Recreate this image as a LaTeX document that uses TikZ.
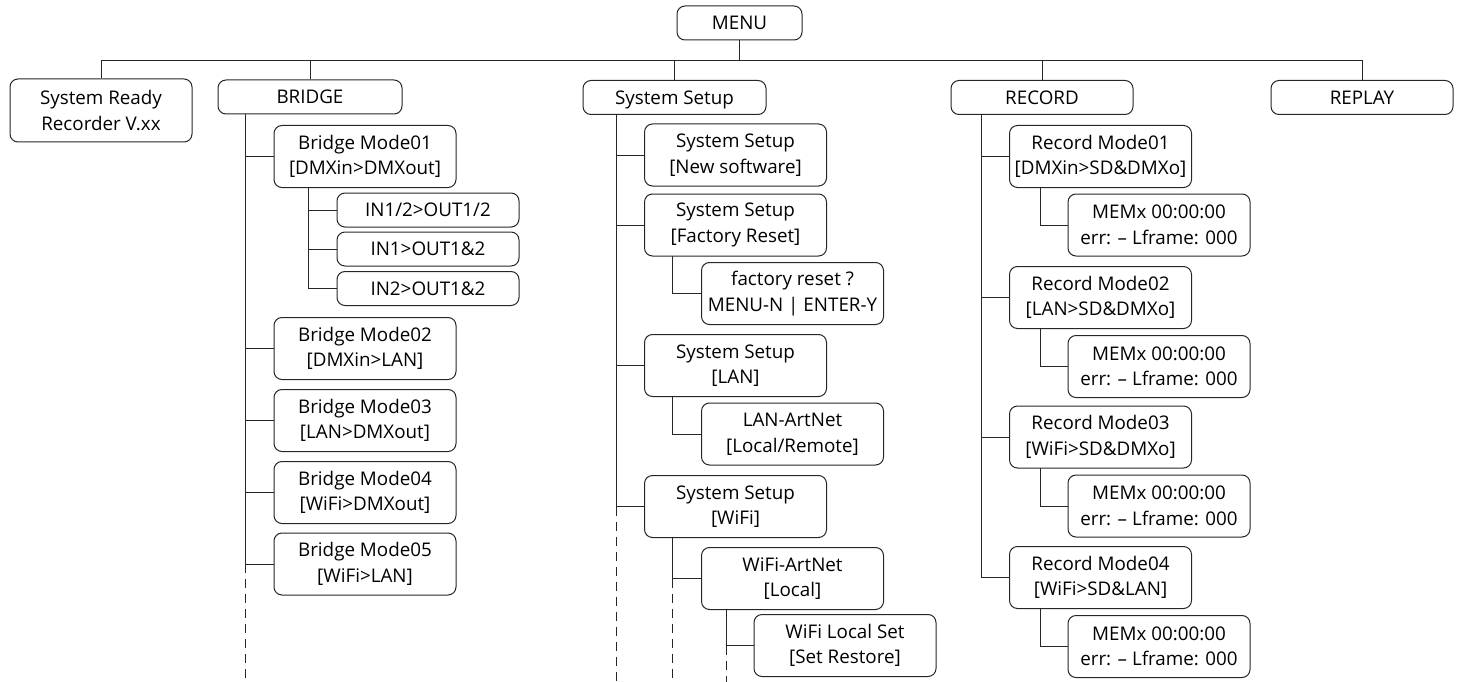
\documentclass[tikz,border=0pt]{standalone}
\usepackage{fontspec}
\setmainfont{Open Sans}
\begin{document}
\begin{tikzpicture}[x=1pt,y=-1pt,
  box/.style={draw=black!85,line width=1pt,rounded corners=8pt,minimum width=182pt,inner sep=0pt,align=center,font=\fontsize{18.8}{25.5}\selectfont,text=black},
  one/.style={box,minimum height=34pt,text height=13.5pt,text depth=0pt},
  two/.style={box,minimum height=62pt},
  ln/.style={draw=black!85,line width=1pt},
  dl/.style={ln,dash pattern=on 9pt off 6pt}]
\useasboundingbox (0,0) rectangle (1461,682);
\coordinate (bot) at (0,682);
\coordinate (bus) at (0,61);
% top level
\node[one,minimum width=125pt] (menu) at (739.5,23) {MENU};
\node[two,minimum height=63pt] (sr) at (101,110.5) {System Ready\\Recorder V.xx};
\node[one,minimum width=184pt] (bridge) at (310,97) {BRIDGE};
\node[one,minimum width=183pt] (ss) at (674.5,97.5) {System Setup};
\node[one] (rec) at (1042,97.5) {RECORD};
\node[one] (rep) at (1362,97.5) {REPLAY};
% bridge branch
\node[two] (bm1) at (365,156.5) {Bridge Mode01\\{}[DMXin>DMXout]};
\node[one] (in12) at (428,210) {IN1/2>OUT1/2};
\node[one] (in1) at (428,249) {IN1>OUT1\&2};
\node[one] (in2) at (428,288.5) {IN2>OUT1\&2};
\node[two] (bm2) at (365,348.5) {Bridge Mode02\\{}[DMXin>LAN]};
\node[two] (bm3) at (365,420.5) {Bridge Mode03\\{}[LAN>DMXout]};
\node[two] (bm4) at (365,492.5) {Bridge Mode04\\{}[WiFi>DMXout]};
\node[two] (bm5) at (365,564) {Bridge Mode05\\{}[WiFi>LAN]};
% system setup branch
\node[two] (ss1) at (735.5,155) {System Setup\\{}[New software]};
\node[two] (ss2) at (735.5,225) {System Setup\\{}[Factory Reset]};
\node[two] (fr) at (792.5,293.5) {factory reset ?\\MENU-N | ENTER-Y};
\node[two] (ss3) at (735.5,365.5) {System Setup\\{}[LAN]};
\node[two] (la) at (792.5,434) {LAN-ArtNet\\{}[Local/Remote]};
\node[two] (ss4) at (735.5,506.5) {System Setup\\{}[WiFi]};
\node[two] (wa) at (792.5,578.5) {WiFi-ArtNet\\{}[Local]};
\node[two] (wl) at (845,645.5) {WiFi Local Set\\{}[Set Restore]};
% record branch
\node[two] (rm1) at (1100.5,156.5) {Record Mode01\\{}[DMXin>SD\&DMXo]};
\node[two] (me1) at (1159,225) {MEMx 00:00:00\\err: -- Lframe: 000};
\node[two] (rm2) at (1100.5,297.5) {Record Mode02\\{}[LAN>SD\&DMXo]};
\node[two] (me2) at (1159,366.5) {MEMx 00:00:00\\err: -- Lframe: 000};
\node[two] (rm3) at (1100.5,437) {Record Mode03\\{}[WiFi>SD\&DMXo]};
\node[two] (me3) at (1159,506) {MEMx 00:00:00\\err: -- Lframe: 000};
\node[two] (rm4) at (1100.5,577.5) {Record Mode04\\{}[WiFi>SD\&LAN]};
\node[two] (me4) at (1159,646.5) {MEMx 00:00:00\\err: -- Lframe: 000};
% trunk coordinates
\coordinate (bt) at (245,114);
\coordinate (b1t) at (308,187);
\coordinate (st) at (616,114);
\coordinate (s2t) at (672,256);
\coordinate (s3t) at (672,396);
\coordinate (s4t) at (672,537);
\coordinate (wat) at (726,609);
\coordinate (rt) at (981,114);
\coordinate (r1t) at (1040,187);
\coordinate (r2t) at (1040,328);
\coordinate (r3t) at (1040,468);
\coordinate (r4t) at (1040,608);
% top bus
\draw[ln] (menu.south) -- (menu.south |- bus);
\draw[ln] (sr.north) -- (sr.north |- bus) -- (rep.north |- bus) -- (rep.north);
\draw[ln] (bridge.north) -- (bridge.north |- bus);
\draw[ln] (ss.north) -- (ss.north |- bus);
\draw[ln] (rec.north) -- (rec.north |- bus);
% bridge tree
\foreach \n in {bm1,bm2,bm3,bm4,bm5} \draw[ln] (bt) |- (\n.west);
\draw[dl] (bt |- bm5.west) -- (bt |- bot);
\foreach \n in {in12,in1,in2} \draw[ln] (b1t) |- (\n.west);
% system setup tree
\foreach \n in {ss1,ss2,ss3,ss4} \draw[ln] (st) |- (\n.west);
\draw[dl] (st |- ss4.west) -- (st |- bot);
\draw[ln] (s2t) |- (fr.west);
\draw[ln] (s3t) |- (la.west);
\draw[ln] (s4t) |- (wa.west);
\draw[dl] (s4t |- wa.west) -- (s4t |- bot);
\draw[ln] (wat) |- (wl.west);
\draw[dl] (wat |- wl.west) -- (wat |- bot);
% record tree
\foreach \n in {rm1,rm2,rm3,rm4} \draw[ln] (rt) |- (\n.west);
\draw[ln] (r1t) |- (me1.west);
\draw[ln] (r2t) |- (me2.west);
\draw[ln] (r3t) |- (me3.west);
\draw[ln] (r4t) |- (me4.west);
\end{tikzpicture}
\end{document}
